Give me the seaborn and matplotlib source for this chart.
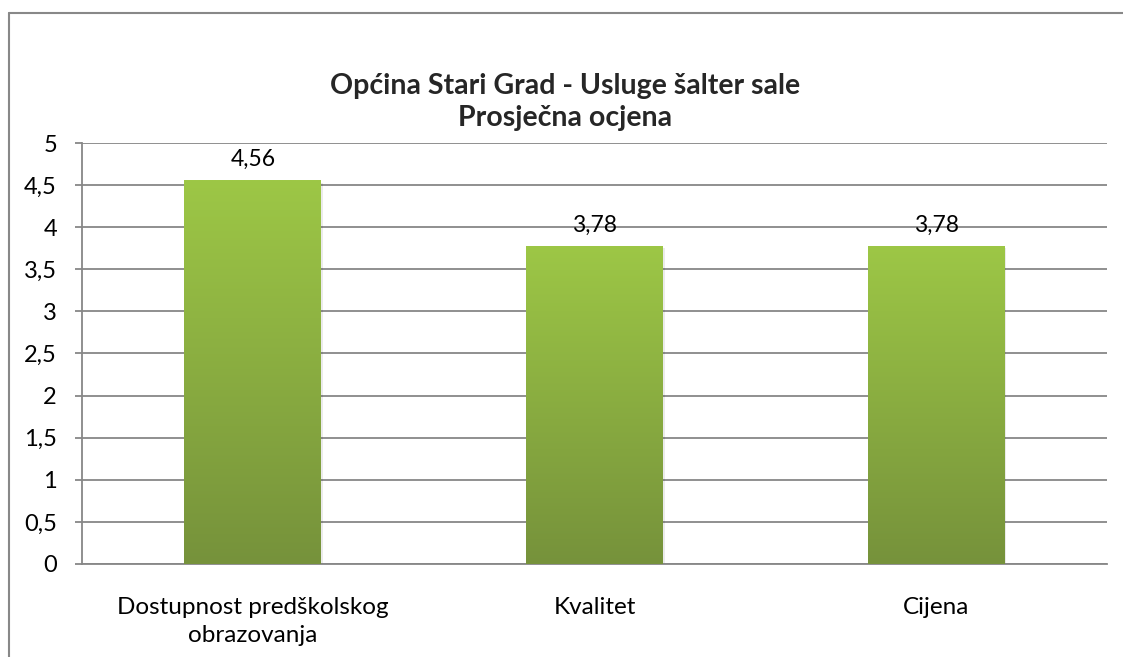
import numpy as np
import pandas as pd
import matplotlib
matplotlib.use("Agg")
import matplotlib.pyplot as plt
import seaborn as sns
from matplotlib.lines import Line2D
from matplotlib.colors import LinearSegmentedColormap

# Podaci
kategorije = ["Dostupnost predškolskog\nobrazovanja", "Kvalitet", "Cijena"]
ocjene = [4.56, 3.78, 3.78]
oznake = ["4,56", "3,78", "3,78"]
y_ticks = [0, 0.5, 1, 1.5, 2, 2.5, 3, 3.5, 4, 4.5, 5]
y_tick_labels = ["0", "0,5", "1", "1,5", "2", "2,5", "3", "3,5", "4", "4,5", "5"]

sns.set_theme(style="white")
plt.rcParams["font.family"] = ["Lato", "DejaVu Sans"]

df = pd.DataFrame({"kategorija": kategorije, "ocjena": ocjene})

fig = plt.figure(figsize=(11.23, 6.57), dpi=100)
ax = fig.add_axes([0.073, 0.1416, 0.9127, 0.6407])

sns.barplot(data=df, x="kategorija", y="ocjena", color="#8db443",
            width=0.4, ax=ax, zorder=3)

# Gradijent na stupcima
cmap = LinearSegmentedColormap.from_list("zelena", ["#76923b", "#9dc746"])
grad = np.linspace(0, 1, 256).reshape(-1, 1)
for p in ax.patches:
    x0, y0 = p.get_x(), p.get_y()
    w, h = p.get_width(), p.get_height()
    p.set_facecolor("none")
    p.set_edgecolor("none")
    im = ax.imshow(grad, cmap=cmap, origin="lower", aspect="auto",
                   extent=[x0, x0 + w, y0, y0 + h], zorder=3)
    im.set_clip_path(p)
    # lagana sjena
    ax.add_patch(plt.Rectangle((x0 + 0.006, y0 - 0.03), w, h, facecolor="#000000",
                               alpha=0.08, edgecolor="none", zorder=2))

for i, (v, t) in enumerate(zip(ocjene, oznake)):
    ax.text(i, v + 0.12, t, ha="center", va="bottom", fontsize=16.5, color="black")

ax.set_xlim(-0.5, 2.5)
ax.set_ylim(0, 5)
ax.set_yticks(y_ticks)
ax.set_yticklabels(y_tick_labels, fontsize=17)
ax.set_xticks(range(3))
ax.set_xticklabels(kategorije, fontsize=17.5, linespacing=1.4)
ax.set_xlabel("")
ax.set_ylabel("")

ax.yaxis.grid(True, color="#878787", linewidth=1.3, zorder=0)
ax.set_axisbelow(True)
for s in ["top", "right"]:
    ax.spines[s].set_visible(False)
for s in ["left", "bottom"]:
    ax.spines[s].set_color("#878787")
    ax.spines[s].set_linewidth(1.3)
ax.tick_params(axis="y", which="major", left=True, length=5, width=1.3,
               color="#878787", pad=13, labelcolor="black")
ax.tick_params(axis="x", which="major", bottom=False, pad=18, labelcolor="black")

fig.text(0.503, 0.869, "Općina Stari Grad - Usluge šalter sale", ha="center",
         va="center", fontsize=20.5, fontweight="bold")
fig.text(0.503, 0.821, "Prosječna ocjena", ha="center", va="center",
         fontsize=20.5, fontweight="bold")

# okvir grafikona
fig.add_artist(Line2D([8.5 / 1123, 8.5 / 1123], [0, 1 - 13 / 657],
                      transform=fig.transFigure, color="#888888", linewidth=1.5))
fig.add_artist(Line2D([8.5 / 1123, 1], [1 - 13 / 657, 1 - 13 / 657],
                      transform=fig.transFigure, color="#888888", linewidth=1.5))

fig.savefig("out.png", dpi=100, facecolor="white")
